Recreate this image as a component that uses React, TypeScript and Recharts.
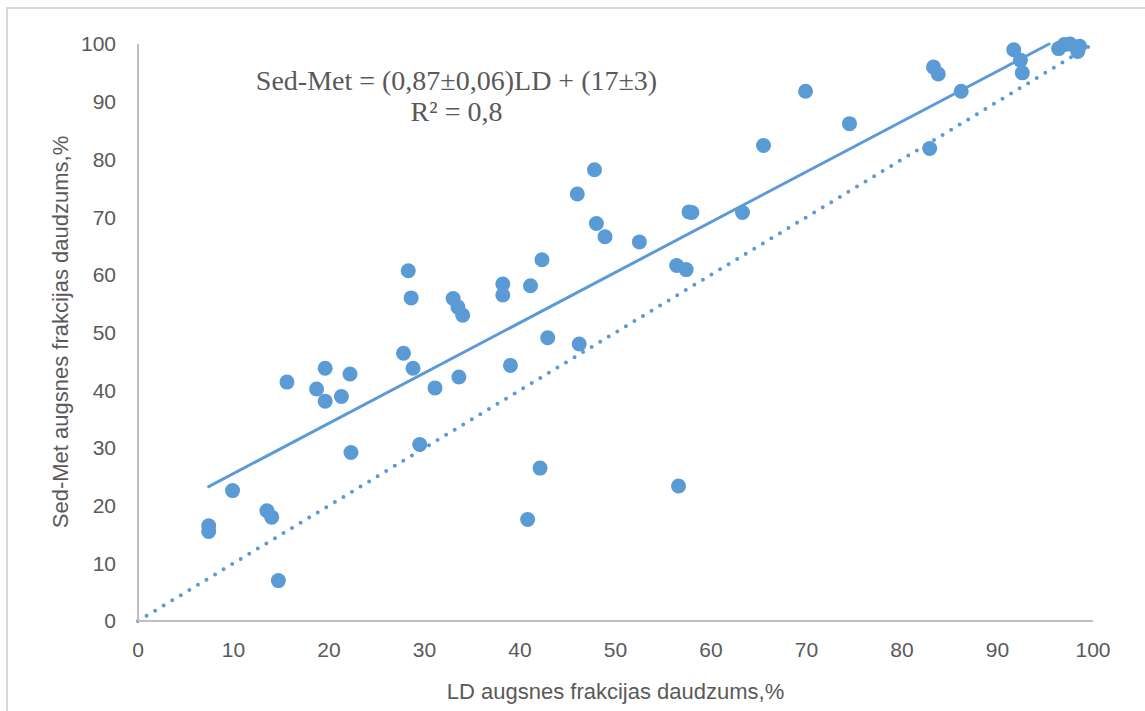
import React from 'react';
import {
  ScatterChart,
  Scatter,
  XAxis,
  YAxis,
  ReferenceLine,
} from 'recharts';

// LD (x) vs Sed-Met (y)
const ldValues = [
  7.4, 7.4, 9.9, 13.5, 14.0, 14.7, 15.6, 18.7, 19.6, 19.6,
  21.3, 22.2, 22.3, 27.8, 28.8, 29.5, 31.1, 33.6, 39.0, 40.8,
  28.3, 28.6, 33.0, 33.5, 34.0, 38.2, 38.2, 41.1, 42.3, 46.0,
  47.8, 48.0, 48.9, 52.5, 56.4, 57.4, 57.7, 58.0, 63.3, 65.5,
  69.9, 74.5, 82.9, 83.3, 83.8, 86.2, 91.7, 92.4, 92.6, 96.4,
  97.0, 97.6, 98.4, 98.6, 42.9, 46.2, 42.1, 56.6,
];
const sedMetValues = [
  16.5, 15.5, 22.6, 19.1, 18.0, 7.0, 41.4, 40.2, 43.8, 38.1,
  38.9, 42.8, 29.2, 46.4, 43.8, 30.6, 40.4, 42.3, 44.3, 17.6,
  60.7, 56.0, 55.9, 54.4, 53.0, 58.4, 56.5, 58.1, 62.6, 74.0,
  78.2, 68.9, 66.6, 65.7, 61.6, 60.9, 70.9, 70.8, 70.8, 82.4,
  91.8, 86.2, 81.9, 96.0, 94.8, 91.8, 99.0, 97.2, 95.0, 99.2,
  99.9, 100.0, 98.7, 99.6, 49.1, 48.0, 26.5, 23.4,
];

// trend line ends and the 1:1 line
const trendStart = { x: 7.4, y: 23.3 };
const trendEnd = { x: 95.4, y: 100 };
const identityStart = { x: 0, y: 0 };
const identityEnd = { x: 100, y: 100 };

const axisTicks = [0, 10, 20, 30, 40, 50, 60, 70, 80, 90, 100];

const points = ldValues.map((x, i) => ({ x, y: sedMetValues[i] }));

const BLUE = '#5B9BD5';
const TEXT = '#595959';
const FONT = '"Liberation Sans", Arial, sans-serif';

const YTitle = () => (
  <text
    x={60}
    y={332}
    transform="rotate(-90 60 332)"
    textAnchor="middle"
    dominantBaseline="central"
    fill={TEXT}
    fontSize={22}
    fontFamily={FONT}
  >
    Sed-Met augsnes frakcijas daudzums,%
  </text>
);

export default function App() {
  return (
    <div
      style={{
        position: 'absolute',
        left: 0,
        top: 0,
        width: 1145,
        height: 711,
        overflow: 'hidden',
        background: '#fff',
      }}
    >
      <div
        style={{
          position: 'absolute',
          left: 6,
          top: 7,
          width: 1170,
          height: 730,
          border: '2px solid #d9d9d9',
        }}
      />
      <ScatterChart
        width={1145}
        height={711}
        margin={{ top: 44, right: 52, bottom: 0, left: 0 }}
        style={{ position: 'absolute', left: 0, top: 0 }}
      >
        <XAxis
          type="number"
          dataKey="x"
          domain={[0, 100]}
          ticks={axisTicks}
          tickLine={false}
          tickSize={0}
          tickMargin={21}
          height={90}
          axisLine={{ stroke: '#bfbfbf', strokeWidth: 2 }}
          tick={{ fill: TEXT, fontSize: 21, fontFamily: FONT }}
          label={{
            value: 'LD augsnes frakcijas daudzums,%',
            position: 'insideBottom',
            offset: 12,
            fill: TEXT,
            fontSize: 22,
            fontFamily: FONT,
          }}
        />
        <YAxis
          type="number"
          dataKey="y"
          domain={[0, 100]}
          ticks={axisTicks}
          tickLine={false}
          tickSize={0}
          tickMargin={22}
          width={138}
          axisLine={{ stroke: '#bfbfbf', strokeWidth: 2 }}
          tick={{ fill: TEXT, fontSize: 21, fontFamily: FONT }}
          label={{ content: () => <YTitle /> }}
        />
        <ReferenceLine
          segment={[identityStart, identityEnd]}
          stroke={BLUE}
          strokeWidth={4}
          strokeDasharray="0 10"
          strokeLinecap="round"
          ifOverflow="visible"
        />
        <ReferenceLine
          segment={[trendStart, trendEnd]}
          stroke={BLUE}
          strokeWidth={3}
          strokeLinecap="round"
          ifOverflow="visible"
        />
        <Scatter
          data={points}
          fill={BLUE}
          isAnimationActive={false}
          shape={(p: any) => <circle cx={p.cx} cy={p.cy} r={7.5} fill={BLUE} />}
        />
      </ScatterChart>
      <div
        style={{
          position: 'absolute',
          left: 206,
          top: 65,
          width: 501,
          textAlign: 'center',
          fontFamily: '"Liberation Serif", "Times New Roman", serif',
          fontSize: 28,
          lineHeight: '31px',
          color: TEXT,
          whiteSpace: 'nowrap',
        }}
      >
        <div>Sed-Met = (0,87±0,06)LD + (17±3)</div>
        <div>R² = 0,8</div>
      </div>
    </div>
  );
}
